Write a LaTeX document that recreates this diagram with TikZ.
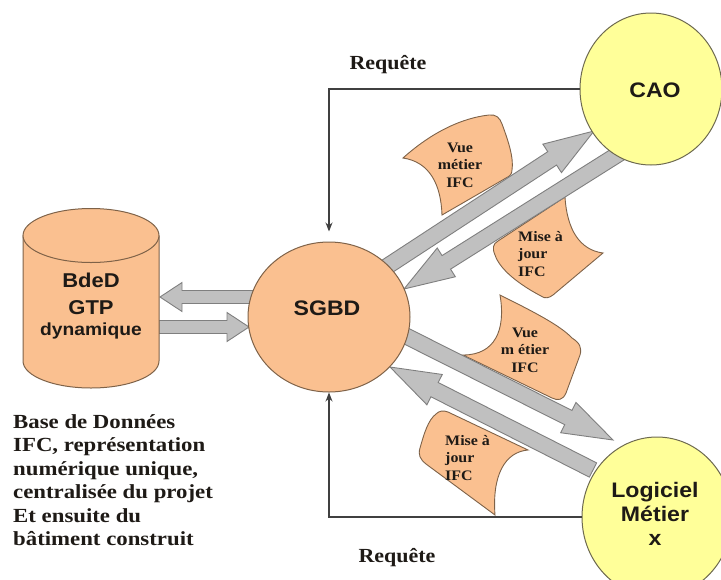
\documentclass[tikz,border=0pt]{standalone}
\usepackage{fontspec}
\usetikzlibrary{calc,arrows.meta,shapes.geometric}
\newfontfamily\sansb[FakeStretch=1.1]{Liberation Sans}
\newfontfamily\serb[FakeStretch=1.1]{Liberation Serif}
\newfontfamily\serw[FakeStretch=1.14]{Liberation Serif}
\definecolor{peach}{HTML}{FAC090}
\definecolor{lyellow}{HTML}{FFFF99}
\definecolor{garrfill}{HTML}{C0C0C0}
\definecolor{garrline}{HTML}{7F7F7F}
\definecolor{cline}{HTML}{6E6A50}
\definecolor{dline}{HTML}{7E6248}
\definecolor{txt}{HTML}{1E1A16}
\pgfdeclarelayer{bg}
\pgfsetlayers{bg,main}
\newcommand{\blkarrow}[5]{%
  \coordinate (bkh) at ($(#2)!#5!(#1)$);
  \draw[garrow] ($(#1)!#3!90:(#2)$) -- ($(bkh)!#3!90:(#2)$) -- ($(bkh)!#4!90:(#2)$) -- (#2)
    -- ($(bkh)!#4!-90:(#2)$) -- ($(bkh)!#3!-90:(#2)$) -- ($(#1)!#3!-90:(#2)$) -- cycle;}
\begin{document}
\begin{tikzpicture}[x=1pt,y=-1pt,
  bigcirc/.style={ellipse, draw=cline, line width=1pt, inner sep=0pt},
  sanslbl/.style={font=\sansb\bfseries\fontsize{21}{24}\selectfont, text=txt, align=center, inner sep=0pt},
  docshape/.style={fill=peach, draw=dline, line width=0.9pt},
  doctext/.style={font=\serb\bfseries\fontsize{14.5}{17.5}\selectfont, text=txt, inner sep=0pt},
  garrow/.style={fill=garrfill, draw=garrline, line width=0.9pt, line join=miter},
  req/.style={draw=black!75, line width=1.1pt, -{Stealth[length=9pt,width=7pt]}},
  reqtext/.style={font=\serb\bfseries\fontsize{20}{24}\selectfont, text=txt, inner sep=0pt},
]
\useasboundingbox (0,0) rectangle (721,579);

% main ellipses
\node[bigcirc, fill=peach, draw=dline, minimum width=162pt, minimum height=150pt] (sgbd) at (329,317) {};
\node[sanslbl] (sgbdlbl) at (327,308) {SGBD};
\node[bigcirc, fill=lyellow, minimum width=142pt, minimum height=152pt] (cao) at (651,89) {};
\node[sanslbl] (caolbl) at (655,90) {CAO};
\node[bigcirc, fill=lyellow, minimum width=150pt, minimum height=160pt] (logi) at (657,517) {};
\node[sanslbl] (logilbl) at (655,514) {Logiciel\\Métier\\x};

% cylinder
\path[fill=peach, draw=dline, line width=1pt] (23,235.5) -- (23,361)
  arc[start angle=180, end angle=360, x radius=68pt, y radius=27pt] -- (159,235.5);
\draw[fill=peach, draw=dline, line width=1pt] (91,235.5) ellipse[x radius=68pt, y radius=27pt];
\coordinate (cyl) at (91,298);
\node[sanslbl, font=\sansb\bfseries\fontsize{20}{24}\selectfont] (bdd1) at (91,280) {BdeD};
\node[sanslbl, font=\sansb\bfseries\fontsize{20}{24}\selectfont] (bdd2) at (91,308) {GTP};
\node[sanslbl, font=\sansb\bfseries\fontsize{17.5}{20}\selectfont] (bdd3) at (91,331) {dynamique};

% description
\node[anchor=north west, align=left, inner sep=0pt, text=txt,
  font=\serw\bfseries\fontsize{20}{23.5}\selectfont] (desc) at (13,414)
  {Base de Données\\IFC, représentation\\numérique unique,\\centralisée du projet\\Et ensuite du\\bâtiment construit};

% document labels
\node[doctext, align=center] (d1t) at (460,165) {Vue\\métier\\IFC};
\node[doctext, align=left, anchor=west] (d2t) at (518,254) {Mise à\\jour\\IFC};
\node[doctext, align=center] (d3t) at (525,350) {Vue\\m étier\\IFC};
\node[doctext, align=left, anchor=west] (d4t) at (445,458) {Mise à\\jour\\IFC};

% arrow end points
\coordinate (h1s) at (258,297); \coordinate (h1e) at (160,297);
\coordinate (h2s) at (159,327); \coordinate (h2e) at (249,327);
\coordinate (g1s) at (380,271); \coordinate (g1e) at (594,131);
\coordinate (g2s) at (620,153); \coordinate (g2e) at (404,289);
\coordinate (g3s) at (400,333); \coordinate (g3e) at (613,440);
\coordinate (g4s) at (593,470); \coordinate (g4e) at (390,367);

\begin{pgfonlayer}{bg}
% document shapes
\draw[docshape] (403,158) .. controls (432,132) and (462,118) .. (489,115)
  .. controls (496,114) and (500,118) .. (502,124)
  .. controls (508,140) and (514,158) .. (512,170)
  .. controls (512,174) and (510,176) .. (506,178)
  -- (442,215)
  .. controls (441,185) and (430,162) .. (403,158) -- cycle;
\draw[docshape] (565,197) .. controls (567,230) and (580,250) .. (603,253)
  -- (553,295) .. controls (549,298) and (545,299) .. (541,296)
  .. controls (520,285) and (500,270) .. (495,255)
  .. controls (492,248) and (493,244) .. (498,241) -- cycle;
\draw[docshape] (500,295) .. controls (530,310) and (560,325) .. (572,338)
  .. controls (580,343) and (582,348) .. (580,355)
  -- (566,393) .. controls (563,400) and (558,401) .. (552,398)
  -- (463,355) .. controls (495,355) and (506,330) .. (500,295) -- cycle;
\draw[docshape] (448,412) -- (528,450) .. controls (505,452) and (492,475) .. (495,515)
  -- (426,464) .. controls (420,459) and (418,455) .. (420,448)
  .. controls (424,434) and (428,420) .. (436,414)
  .. controls (439,411) and (443,410) .. (448,412) -- cycle;
% block arrows
\blkarrow{h1s}{h1e}{6.5pt}{14.5pt}{22pt}
\blkarrow{h2s}{h2e}{6.5pt}{14.5pt}{22pt}
\blkarrow{g1s}{g1e}{8pt}{17pt}{50pt}
\blkarrow{g2s}{g2e}{8pt}{17pt}{50pt}
\blkarrow{g3s}{g3e}{8pt}{17pt}{50pt}
\blkarrow{g4s}{g4e}{8pt}{17pt}{50pt}
\end{pgfonlayer}

% requests
\draw[req] (cao.west) -| ([yshift=10pt]sgbd.north);
\draw[req] (logi.west) -| (sgbd.south);
\node[reqtext] (rq1) at (388,65) {Requête};
\node[reqtext] (rq2) at (397,558) {Requête};
\end{tikzpicture}
\end{document}
